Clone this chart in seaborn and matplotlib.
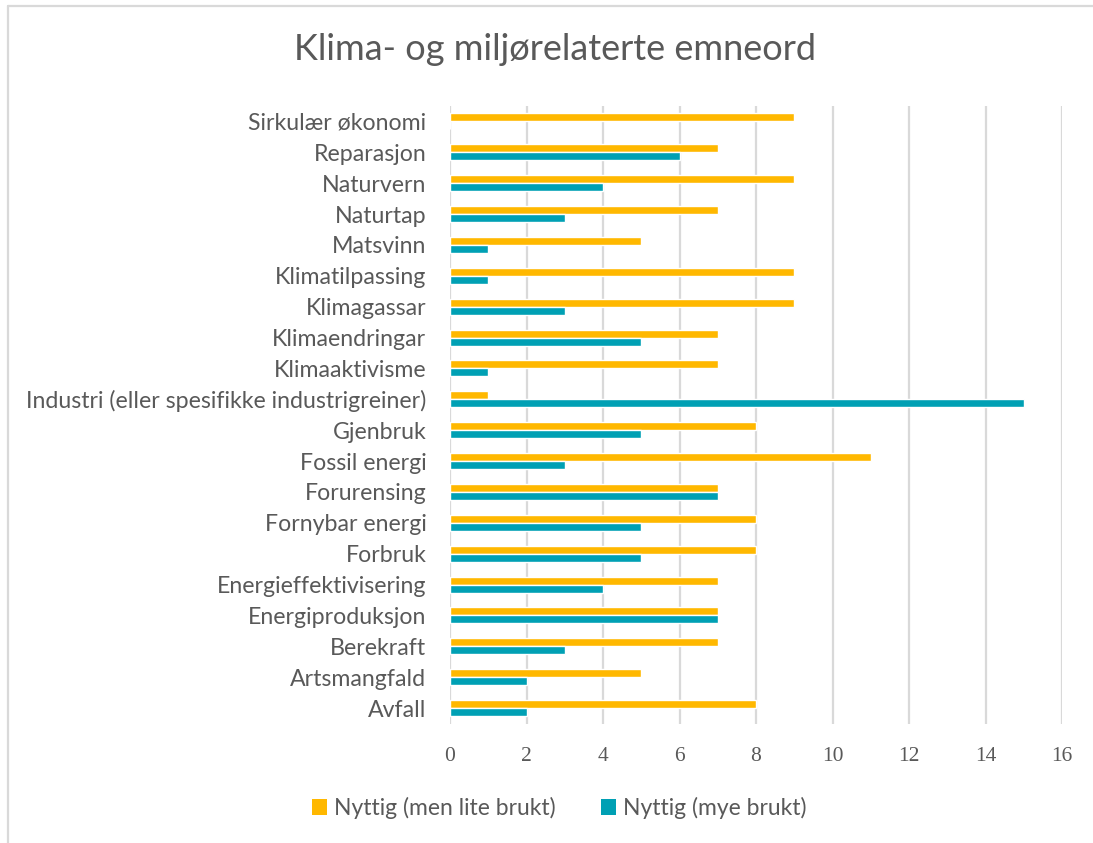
import matplotlib
matplotlib.use("Agg")
import matplotlib.pyplot as plt
import seaborn as sns
import pandas as pd
from matplotlib.lines import Line2D
from matplotlib.patches import Patch

categories = [
    "Sirkulær økonomi", "Reparasjon", "Naturvern", "Naturtap", "Matsvinn",
    "Klimatilpassing", "Klimagassar", "Klimaendringar", "Klimaaktivisme",
    "Industri (eller spesifikke industrigreiner)", "Gjenbruk", "Fossil energi",
    "Forurensing", "Fornybar energi", "Forbruk", "Energieffektivisering",
    "Energiproduksjon", "Berekraft", "Artsmangfald", "Avfall",
]
lite_brukt = [9, 7, 9, 7, 5, 9, 9, 7, 7, 1, 8, 11, 7, 8, 8, 7, 7, 7, 5, 8]
mye_brukt = [0, 6, 4, 3, 1, 1, 3, 5, 1, 15, 5, 3, 7, 5, 5, 4, 7, 3, 2, 2]
series_names = ["Nyttig (men lite brukt)", "Nyttig (mye brukt)"]
colors = ["#FFB800", "#00A0B4"]
x_ticks = [0, 2, 4, 6, 8, 10, 12, 14, 16]

df = pd.DataFrame({
    "kategori": categories * 2,
    "verdi": lite_brukt + mye_brukt,
    "serie": [series_names[0]] * len(categories) + [series_names[1]] * len(categories),
})

sns.set_theme(style="white")
plt.rcParams["font.family"] = ["Lato", "DejaVu Sans"]
text_color = "#595959"

fig = plt.figure(figsize=(10.93, 8.43), dpi=100)
ax = fig.add_axes([450 / 1093, 1 - 723.5 / 843, (1062 - 450) / 1093, (723.5 - 106) / 843])

sns.barplot(data=df, y="kategori", x="verdi", hue="serie", order=categories,
            hue_order=series_names, palette=colors, orient="h", width=0.52,
            saturation=1, ax=ax, legend=False, errorbar=None)

ax.set_xlim(0, 16)
ax.set_ylim(len(categories) - 0.5, -0.5)
ax.set_xticks(x_ticks)
ax.set_xticklabels([str(t) for t in x_ticks], family=["Liberation Serif", "DejaVu Serif"],
                   fontsize=15.5, color=text_color)
ax.tick_params(axis="x", length=0, pad=17)
ax.tick_params(axis="y", length=0, pad=17, labelsize=16.7, labelcolor=text_color)
ax.set_xlabel("")
ax.set_ylabel("")
ax.xaxis.grid(True, color="#D9D9D9", linewidth=1.6)
ax.set_axisbelow(True)
for s in ax.spines.values():
    s.set_visible(False)

fig.text(555 / 1093, 1 - 50 / 843, "Klima- og miljørelaterte emneord", ha="center", va="center",
         fontsize=26, color=text_color)

handles = [Patch(facecolor=c, edgecolor="none") for c in colors]
fig.legend(handles, series_names, loc="center", bbox_to_anchor=(559 / 1093, 1 - 808 / 843),
           ncol=2, frameon=False, fontsize=16.5, labelcolor=text_color,
           handlelength=0.65, handleheight=0.65, handletextpad=0.3, columnspacing=2.0)

fig.add_artist(Line2D([8 / 1093, 8 / 1093], [0, 1 - 6 / 843], transform=fig.transFigure,
                      color="#D9D9D9", linewidth=1.6))
fig.add_artist(Line2D([8 / 1093, 1], [1 - 6 / 843, 1 - 6 / 843], transform=fig.transFigure,
                      color="#D9D9D9", linewidth=1.6))

fig.savefig("out.png", dpi=100)
